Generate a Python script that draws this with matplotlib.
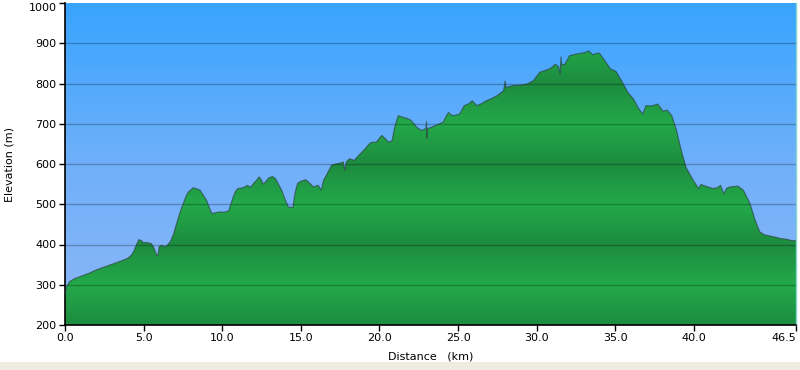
import numpy as np
import matplotlib
matplotlib.use("Agg")
import matplotlib.pyplot as plt
from matplotlib.patches import Rectangle
from matplotlib.colors import LinearSegmentedColormap

distance_km = [0.0, 0.1, 0.3, 0.6, 0.95, 1.5, 2.0, 2.5, 2.86, 3.3, 3.7, 4.0, 4.24, 4.4, 4.55, 4.7,
               4.85, 5.0, 5.2, 5.5, 5.65, 5.83, 5.9, 6.0, 6.15, 6.36, 6.55, 6.7, 6.9, 7.1, 7.3,
               7.53, 7.7, 7.84, 8.16, 8.4, 8.59, 8.8, 9.0, 9.2, 9.33, 9.6, 9.86, 10.1, 10.4,
               10.55, 10.7, 10.85, 11.0, 11.2, 11.45, 11.6, 11.8, 12.0, 12.2, 12.35, 12.5, 12.6,
               12.75, 12.95, 13.2, 13.4, 13.6, 13.78, 14.0, 14.2, 14.5, 14.6, 14.7, 14.8, 15.0,
               15.3, 15.5, 15.8, 16.1, 16.3, 16.45, 16.6, 16.96, 17.2, 17.5, 17.7, 17.8, 17.9,
               18.1, 18.4, 18.7, 19.1, 19.3, 19.5, 19.8, 20.0, 20.15, 20.4, 20.6, 20.8, 21.0,
               21.2, 21.5, 21.75, 21.95, 22.2, 22.37, 22.7, 22.95, 23.0, 23.02, 23.05, 23.3,
               23.7, 24.06, 24.3, 24.4, 24.55, 24.7, 25.1, 25.4, 25.7, 25.9, 26.2, 26.5, 26.8,
               27.1, 27.5, 27.7, 27.9, 28.0, 28.05, 28.5, 29.0, 29.4, 29.8, 30.2, 30.6, 30.9,
               31.2, 31.4, 31.5, 31.55, 31.6, 31.8, 32.1, 32.5, 32.8, 33.1, 33.3, 33.6, 33.8,
               34.0, 34.35, 34.7, 35.05, 35.4, 35.8, 36.15, 36.5, 36.75, 36.96, 37.2, 37.4,
               37.7, 38.05, 38.3, 38.6, 38.9, 39.2, 39.5, 39.97, 40.3, 40.45, 40.6, 40.9, 41.2,
               41.5, 41.7, 41.9, 42.1, 42.3, 42.8, 43.15, 43.57, 43.9, 44.2, 44.5, 44.85, 45.2,
               45.5, 45.9, 46.2, 46.5]
elevation_m = [275, 295, 308, 315, 320, 328, 337, 344, 349, 355, 361, 366, 374, 385, 400, 412,
               410, 404, 405, 402, 392, 374, 372, 395, 398, 394, 400, 407, 425, 452, 478,
               502, 520, 530, 541, 538, 535, 522, 510, 490, 477, 479, 481, 480, 483,
               500, 518, 532, 539, 540, 543, 547, 542, 552, 560, 568, 560, 550,
               555, 565, 569, 563, 548, 535, 512, 493, 492, 520, 539, 552, 557,
               561, 555, 543, 547, 535, 560, 570, 597, 600, 602, 605, 584, 605,
               613, 609, 622, 638, 648, 654, 654, 664, 671, 662, 654, 658, 695,
               720, 716, 713, 710, 700, 691, 683, 688, 705, 664, 688, 691,
               698, 704, 722, 728, 722, 720, 724, 745, 750, 757, 745, 750, 757,
               762, 770, 776, 782, 806, 790, 795, 796, 799, 807, 828, 833, 838,
               848, 841, 823, 866, 846, 848, 869, 873, 875, 877, 881, 871, 875,
               875, 856, 836, 830, 807, 778, 762, 737, 724, 745, 744, 745,
               749, 731, 734, 720, 683, 634, 592, 559, 539, 549, 547, 543, 539,
               541, 547, 526, 540, 543, 545, 535, 502, 460, 431, 424, 421, 418,
               415, 413, 410, 409]

x_ticks = [0.0, 5.0, 10.0, 15.0, 20.0, 25.0, 30.0, 35.0, 40.0, 46.5]
x_tick_labels = ["0.0", "5.0", "10.0", "15.0", "20.0", "25.0", "30.0", "35.0", "40.0", "46.5"]
y_ticks = [200, 300, 400, 500, 600, 700, 800, 900, 1000]

XMIN, XMAX, YMIN, YMAX = 0.0, 46.5, 200, 1000

fig = plt.figure(figsize=(8, 3.7), dpi=100)
fig.patch.set_facecolor("white")
fig.add_artist(Rectangle((0, 0), 1, 8 / 370, transform=fig.transFigure,
                         facecolor="#eeece1", edgecolor="none", zorder=0))

ax = fig.add_axes([65 / 800, 45 / 370, 731 / 800, 322 / 370])

# sky gradient
sky = LinearSegmentedColormap.from_list("sky", ["#8cb6f7", "#70b0fa", "#38a4fe"])
grad = np.linspace(0, 1, 256).reshape(-1, 1)
ax.imshow(grad, cmap=sky, aspect="auto", origin="lower",
          extent=[XMIN, XMAX, YMIN, YMAX], zorder=0, interpolation="bicubic")

# green banded fill
ys = np.linspace(YMIN, YMAX, 1601)
p = ((ys - 300) % 200) / 200.0
b = np.abs(1 - 2 * p)
greens = LinearSegmentedColormap.from_list("gr", ["#1d8c3f", "#23a94a"])
poly = ax.fill_between(distance_km, elevation_m, YMIN, facecolor="none", edgecolor="none", zorder=1)
im = ax.imshow(b.reshape(-1, 1), cmap=greens, aspect="auto", origin="lower",
               extent=[XMIN, XMAX, YMIN, YMAX], zorder=1, interpolation="bilinear")
im.set_clip_path(poly.get_paths()[0], transform=ax.transData)

ax.plot(distance_km, elevation_m, color="#2d3b3b", lw=0.8, alpha=0.65, zorder=3)

for y in y_ticks[1:-1]:
    ax.axhline(y, color="black", lw=1.0, alpha=0.25, zorder=2)

ax.set_xlim(XMIN, XMAX)
ax.set_ylim(YMIN, YMAX)
ax.set_xticks(x_ticks)
ax.set_xticklabels(x_tick_labels)
ax.set_yticks(y_ticks)
ax.tick_params(axis="both", direction="out", length=4, width=1, labelsize=8, color="black",
               pad=2)
xl = ax.get_xticklabels()
xl[-1].set_horizontalalignment("right")
yl = ax.get_yticklabels()
yl[-1].set_verticalalignment("top")

for s in ["left", "bottom"]:
    ax.spines[s].set_color("black")
    ax.spines[s].set_linewidth(1.2)
ax.spines["top"].set_visible(False)
ax.spines["right"].set_color("#7fd6cf")
ax.spines["right"].set_linewidth(1.0)

ax.set_xlabel("Distance   (km)", fontsize=8, labelpad=6)
ax.set_ylabel("Elevation (m)", fontsize=8, labelpad=10)

fig.savefig("out.png", dpi=100)
